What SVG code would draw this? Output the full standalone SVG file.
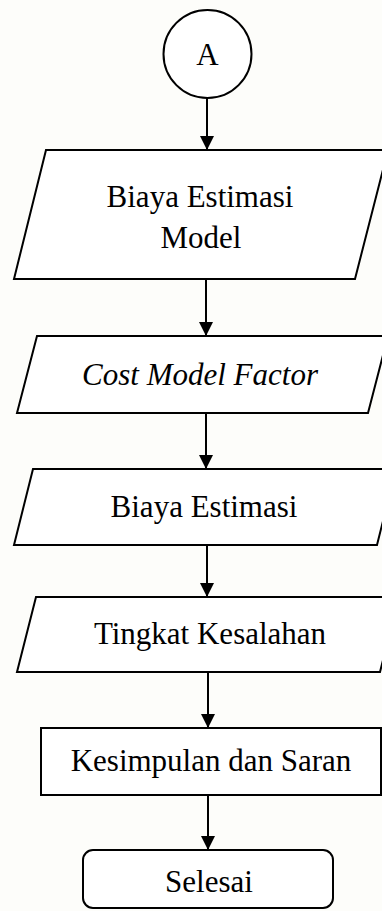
<svg xmlns="http://www.w3.org/2000/svg" width="382" height="911" viewBox="0 0 382 911">
  <style>
    .shape { fill: #ffffff; stroke: #000000; stroke-width: 2; }
    .edge { stroke: #000000; stroke-width: 2; fill: none; marker-end: url(#arrow); }
    .label { font-family: "Liberation Serif", "Times New Roman", serif; font-size: 31px; fill: #000000; text-anchor: middle; }
    .italic { font-style: italic; }
  </style>
  <defs>
    <marker id="arrow" markerWidth="14" markerHeight="15" refX="14" refY="7" orient="auto" markerUnits="userSpaceOnUse">
      <path d="M0,0 L14,7 L0,14 Z" fill="#000000"/>
    </marker>
  </defs>
  <rect x="0" y="0" width="382" height="911" fill="#fdfdfa"/>

  <g id="connectors">
    <line class="edge" x1="207" y1="98" x2="207" y2="150"/>
    <line class="edge" x1="206" y1="279" x2="206" y2="336"/>
    <line class="edge" x1="206" y1="413" x2="206" y2="469"/>
    <line class="edge" x1="207" y1="545" x2="207" y2="597"/>
    <line class="edge" x1="208" y1="672" x2="208" y2="728"/>
    <line class="edge" x1="208" y1="795" x2="208" y2="850"/>
  </g>

  <g id="node-a">
    <circle class="shape" cx="207.5" cy="54" r="44"/>
    <text class="label" x="207.5" y="65">A</text>
  </g>

  <g id="node-biaya-estimasi-model">
    <polygon class="shape" points="46,150 388,150 355,279 14,279"/>
    <text class="label" x="200" y="207">Biaya Estimasi</text>
    <text class="label" x="201" y="248">Model</text>
  </g>

  <g id="node-cost-model-factor">
    <polygon class="shape" points="37,336 388,336 368,413 17,413"/>
    <text class="label italic" x="200" y="385">Cost Model Factor</text>
  </g>

  <g id="node-biaya-estimasi">
    <polygon class="shape" points="33,469 396,469 377,545 14,545"/>
    <text class="label" x="204" y="517">Biaya Estimasi</text>
  </g>

  <g id="node-tingkat-kesalahan">
    <polygon class="shape" points="36,597 399,597 380,672 17,672"/>
    <text class="label" x="210" y="644">Tingkat Kesalahan</text>
  </g>

  <g id="node-kesimpulan">
    <rect class="shape" x="41" y="728" width="340" height="67"/>
    <text class="label" x="211" y="771">Kesimpulan dan Saran</text>
  </g>

  <g id="node-selesai">
    <rect class="shape" x="83" y="850" width="250" height="58" rx="10" ry="10"/>
    <text class="label" x="209" y="892">Selesai</text>
  </g>
</svg>
